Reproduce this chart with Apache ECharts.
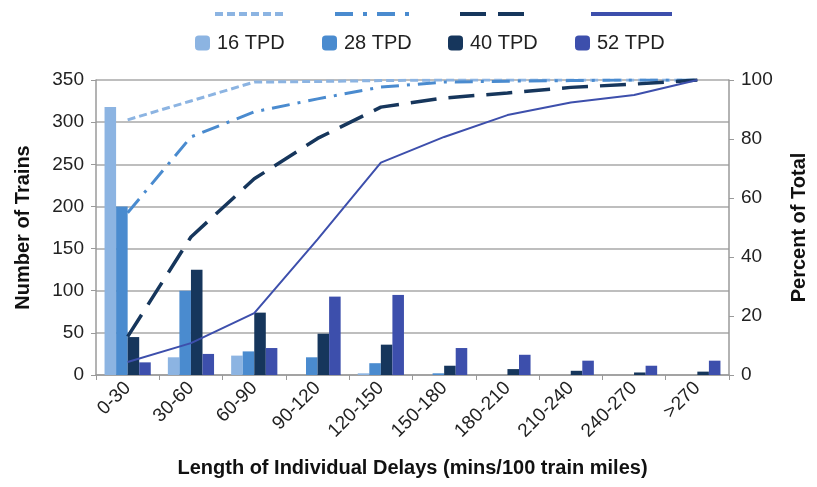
<!DOCTYPE html>
<html>
<head>
<meta charset="utf-8">
<script src="https://cdn.jsdelivr.net/npm/echarts@6/dist/echarts.min.js"></script>
<style>
html,body{margin:0;padding:0;background:#fff;}
#chart{width:817px;height:487px;}
</style>
</head>
<body>
<div id="chart"></div>
<script>
// ---- data ----
var categories = ['0-30','30-60','60-90','90-120','120-150','150-180','180-210','210-240','240-270','>270'];
var barNames = ['16 TPD','28 TPD','40 TPD','52 TPD'];
var trains16 = [318, 21, 23, 0, 2, 0, 0, 0, 0, 0];
var trains28 = [200, 100, 28, 21, 14, 2, 0, 0, 0, 0];
var trains40 = [45, 125, 74, 49, 36, 11, 7, 5, 3, 4];
var trains52 = [15, 25, 32, 93, 95, 32, 24, 17, 11, 17];
var pct16 = [86.5, 92.9, 99.3, 99.5, 99.8, 100, 100, 100, 100, 100];
var pct28 = [55, 80.7, 89.2, 93.6, 97.6, 99.3, 99.6, 99.8, 100, 100];
var pct40 = [13, 46.8, 66.5, 80.2, 90.8, 93.9, 95.6, 97.5, 98.6, 100];
var pct52 = [4.4, 10.8, 21, 46, 72, 80.7, 88.1, 92.4, 94.9, 100];
var leftTicks = [0, 50, 100, 150, 200, 250, 300, 350];
var rightTicks = [0, 20, 40, 60, 80, 100];

var lineNames = ['16 TPD cumulative','28 TPD cumulative','40 TPD cumulative','52 TPD cumulative'];
var barColors = ['#8cb4e2','#4a8bcf','#16365c','#3d4fac'];
var lineColors = ['#8cb4e2','#4a8bcf','#16365c','#3d4fac'];
var lineTypes = [[8,4],[18,8,3,8],[26,12],'solid'];
var lineWidths = [3,3,3.5,2];
var legTypes = [[8,4],[18,10,4,10],[26,12],'solid'];
var legWidths = [4,4,4,4];

var font = '"Liberation Sans", Arial, sans-serif';
var barData = [trains16, trains28, trains40, trains52];
var pctData = [pct16, pct28, pct40, pct52];

var series = [];
barNames.forEach(function(n, i){
  series.push({
    name: n, type: 'bar', yAxisIndex: 0, data: barData[i],
    barGap: '0%', barCategoryGap: '27%',
    itemStyle: {color: barColors[i]}
  });
});
lineNames.forEach(function(n, i){
  series.push({
    name: n, type: 'line', yAxisIndex: 1, data: pctData[i],
    symbol: 'none', z: 5,
    lineStyle: {color: lineColors[i], width: lineWidths[i], type: lineTypes[i]},
    itemStyle: {color: lineColors[i]}
  });
});

var lineLegLeft = [213, 333, 458, 589];
var lineLegW = [70, 75, 75, 81];
var barLegLeft = [195, 322, 448, 575];
var legends = [];
lineNames.forEach(function(n, i){
  legends.push({
    data: [n], left: lineLegLeft[i], top: 7, padding: 0,
    itemWidth: lineLegW[i], itemHeight: 14, formatter: function(){return '';},
    selectedMode: false,
    itemStyle: {opacity: 0},
    lineStyle: {width: legWidths[i], type: legTypes[i], color: lineColors[i]}
  });
});
barNames.forEach(function(n, i){
  legends.push({
    data: [n], left: barLegLeft[i], top: 33, padding: 0,
    itemWidth: 15, itemHeight: 15, itemGap: 0, selectedMode: false,
    textStyle: {fontFamily: font, fontSize: 20, color: '#222', padding: [0,0,0,2]}
  });
});

var chart = echarts.init(document.getElementById('chart'), null, {renderer: 'canvas'});
chart.setOption({
  animation: false,
  textStyle: {fontFamily: font},
  legend: legends,
  grid: {left: 96, right: 85, top: 80, bottom: 112, containLabel: false},
  xAxis: {
    type: 'category', data: categories,
    axisLine: {lineStyle: {color: '#9a9a9a', width: 1.5}},
    axisTick: {show: true, length: 5, lineStyle: {color: '#9a9a9a'}},
    axisLabel: {rotate: 45, fontSize: 19, color: '#222', fontFamily: font, margin: 10},
    name: 'Length of Individual Delays (mins/100 train miles)',
    nameLocation: 'middle', nameGap: 83,
    nameTextStyle: {fontSize: 20, fontWeight: 'bold', color: '#111', fontFamily: font}
  },
  yAxis: [{
    type: 'value', min: leftTicks[0], max: leftTicks[leftTicks.length-1], interval: 50,
    position: 'left',
    axisLine: {show: true, lineStyle: {color: '#9a9a9a', width: 1.5}},
    axisTick: {show: true, length: 5, lineStyle: {color: '#9a9a9a'}},
    splitLine: {show: true, lineStyle: {color: '#a8a8a8', width: 1.5}},
    axisLabel: {fontSize: 19, color: '#222', fontFamily: font, margin: 12},
    name: 'Number of Trains', nameLocation: 'middle', nameGap: 63, nameRotate: 90,
    nameTextStyle: {fontSize: 20, fontWeight: 'bold', color: '#111', fontFamily: font}
  },{
    type: 'value', min: rightTicks[0], max: rightTicks[rightTicks.length-1], interval: 20,
    position: 'right',
    axisLine: {show: true, lineStyle: {color: '#9a9a9a', width: 1.5}},
    axisTick: {show: true, length: 5, lineStyle: {color: '#9a9a9a'}},
    splitLine: {show: false},
    axisLabel: {fontSize: 19, color: '#222', fontFamily: font, margin: 12},
    name: 'Percent of Total', nameLocation: 'middle', nameGap: 60, nameRotate: 90,
    nameTextStyle: {fontSize: 20, fontWeight: 'bold', color: '#111', fontFamily: font}
  }],
  series: series
});
</script>
</body>
</html>
